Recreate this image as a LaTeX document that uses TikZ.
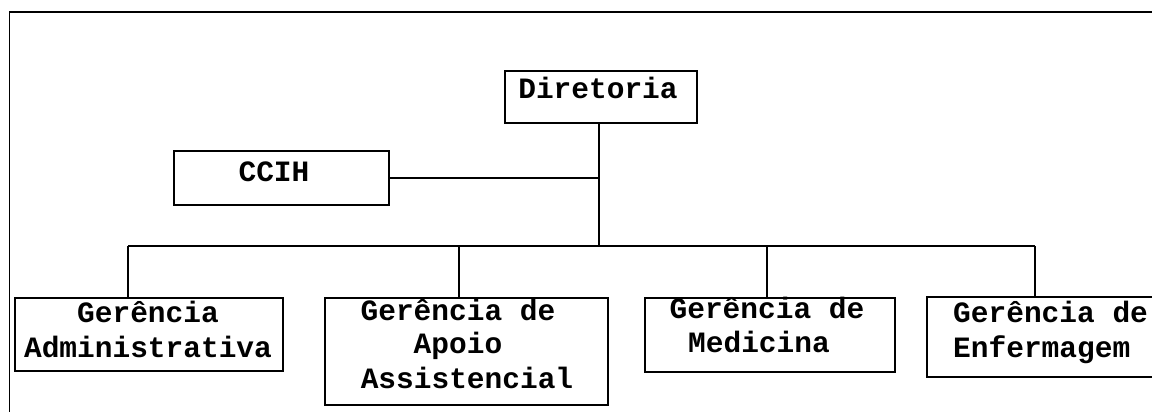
\documentclass[tikz,border=0pt]{standalone}
\usepackage{fontspec}
\setmonofont{Liberation Mono}
\begin{document}
\begin{tikzpicture}[x=1pt,y=-1pt,
  box/.style={draw,line width=1.8pt,rectangle,inner sep=0pt,anchor=north west},
  txt/.style={inner sep=0pt,font=\ttfamily\bfseries\fontsize{29.5}{34}\selectfont},
  conn/.style={line width=1.8pt}]
\useasboundingbox (0,0) rectangle (1152,412);
\clip (0,0) rectangle (1152,412);
\fill[white] (0,0) rectangle (1152,412);
% outer frame
\draw[line width=1.8pt] (9.5,12) rectangle (1200,460);
% boxes
\node[box,minimum width=192pt,minimum height=52pt] (dir) at (504,70) {};
\node[box,minimum width=215pt,minimum height=54pt] (ccih) at (173,150) {};
\node[box,minimum width=268pt,minimum height=73pt] (adm) at (14,297) {};
\node[box,minimum width=283pt,minimum height=107pt] (apo) at (324,297) {};
\node[box,minimum width=250pt,minimum height=74pt] (med) at (644,297) {};
\node[box,minimum width=254pt,minimum height=80pt] (enf) at (926,296) {};
% texts
\node[txt,anchor=base] (tdir) at (598,99) {Diretoria};
\node[txt,anchor=base] (tccih) at (274,181) {CCIH};
\node[txt,anchor=base] (tadm1) at (148,322) {Gerência};
\node[txt,anchor=base] (tadm2) at (148,357) {Administrativa};
\node[txt,anchor=base] (tapo1) at (458,320) {Gerência de};
\node[txt,anchor=base] (tapo2) at (458,353) {Apoio};
\node[txt,anchor=base] (tapo3) at (467,388) {Assistencial};
\node[txt,anchor=base] (tmed1) at (767,318) {Gerência de};
\node[txt,anchor=base] (tmed2) at (759,352) {Medicina};
\node[txt,anchor=base west] (tenf1) at (953,322) {Gerência de};
\node[txt,anchor=base west] (tenf2) at (953,357) {Enfermagem};
% connectors
\coordinate (j) at (599,246);
\coordinate (b1) at (128,246);
\coordinate (b2) at (459,246);
\coordinate (b3) at (767,246);
\coordinate (b4) at (1035,246);
\draw[conn] (dir.south -| j) -- (j);
\draw[conn] (ccih.east) -- (ccih.east -| j);
\draw[conn] (b1) -- (b4);
\draw[conn] (b1) -- (b1 |- adm.north);
\draw[conn] (b2) -- (b2 |- apo.north);
\draw[conn] (b3) -- (b3 |- med.north);
\draw[conn] (b4) -- (b4 |- enf.north);
\end{tikzpicture}
\end{document}
